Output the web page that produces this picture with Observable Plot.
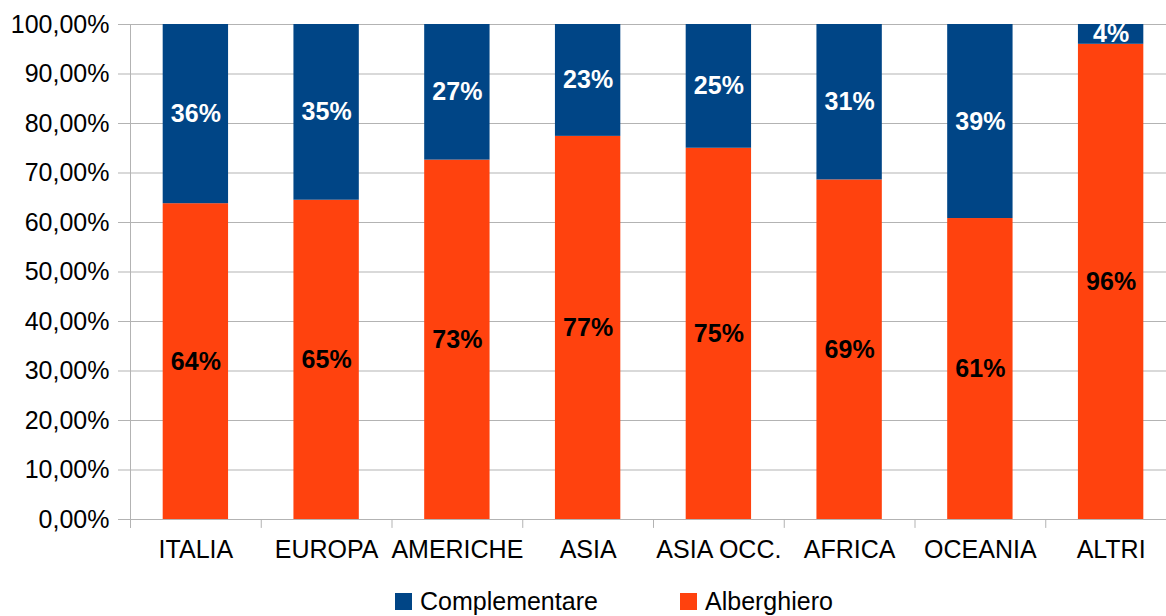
<!DOCTYPE html>
<html>
<head>
<meta charset="utf-8">
<script src="https://cdn.jsdelivr.net/npm/d3@7"></script>
<script src="https://cdn.jsdelivr.net/npm/@observablehq/plot@0.6"></script>
<style>
  html, body { margin: 0; padding: 0; background: #fff; overflow: hidden; }
  body { width: 1166px; height: 616px; font-family: "Liberation Sans", Arial, sans-serif; position: relative; }
  #legend { position: absolute; left: 0; top: 586px; width: 1166px; height: 30px; font-size: 25px; color: #000; line-height: 30px; }
  .item { position: absolute; top: 0; display: flex; align-items: center; height: 30px; }
  .sw { width: 17px; height: 17px; margin-right: 8px; }
</style>
</head>
<body>
<div id="chart"></div>
<div id="legend">
  <div class="item" style="left:395px"><div class="sw" style="background:#004586"></div>Complementare</div>
  <div class="item" style="left:680px"><div class="sw" style="background:#ff420e"></div>Alberghiero</div>
</div>
<script>
const categories = ["ITALIA", "EUROPA", "AMERICHE", "ASIA", "ASIA OCC.", "AFRICA", "OCEANIA", "ALTRI"];
const alberghiero = [63.8, 64.5, 72.6, 77.4, 75.0, 68.6, 60.8, 96.0];
const alberghieroLabels = ["64%", "65%", "73%", "77%", "75%", "69%", "61%", "96%"];
const complementareLabels = ["36%", "35%", "27%", "23%", "25%", "31%", "39%", "4%"];
const yTicks = [0, 10, 20, 30, 40, 50, 60, 70, 80, 90, 100];

const rows = categories.map((c, i) => ({
  cat: c,
  alb: alberghiero[i],
  albLabel: alberghieroLabels[i],
  compLabel: complementareLabels[i]
}));

const width = 1166, marginLeft = 130, marginRight = -10;
const step = (width - marginRight - marginLeft) / categories.length;

const chart = Plot.plot({
  width,
  height: 580,
  marginLeft,
  marginRight,
  marginTop: 24,
  marginBottom: 61,
  style: { fontFamily: "Liberation Sans, Arial, sans-serif", fontSize: "25px", color: "#000", background: "#fff", overflow: "visible" },
  x: { domain: categories, paddingInner: 0.5, paddingOuter: 0.25, round: false, label: null },
  y: { domain: [0, 100], label: null },
  marks: [
    Plot.axisY({ ticks: yTicks, tickSize: 12, tickPadding: 9, stroke: "#b3b3b3", strokeOpacity: 1,
      tickFormat: d => d.toFixed(2).replace(".", ",") + "%", fontSize: 25, fill: "#000", label: null }),
    Plot.gridY(yTicks, { stroke: "#b3b3b3", strokeOpacity: 1, strokeWidth: 1 }),
    Plot.ruleX(categories, { x: d => d, dx: -step / 2, y1: -1.8, y2: 0, stroke: "#b3b3b3", strokeWidth: 1 }),
    Plot.ruleX([categories[0]], { x: d => d, dx: -step / 2, y1: -1.8, y2: 100, stroke: "#b3b3b3", strokeWidth: 1 }),
    Plot.barY(rows, { x: "cat", y1: 0, y2: "alb", fill: "#ff420e" }),
    Plot.barY(rows, { x: "cat", y1: "alb", y2: 100, fill: "#004586" }),
    Plot.text(rows, { x: "cat", y: d => d.alb / 2, text: "albLabel", fill: "#000", fontWeight: "bold", fontSize: 25 }),
    Plot.text(rows, { x: "cat", y: d => (d.alb + 100) / 2, text: "compLabel", fill: "#fff", fontWeight: "bold", fontSize: 25 }),
    Plot.axisX({ tickSize: 0, tickPadding: 21, fontSize: 25, fill: "#000", label: null })
  ]
});
document.getElementById("chart").appendChild(chart);
</script>
</body>
</html>
